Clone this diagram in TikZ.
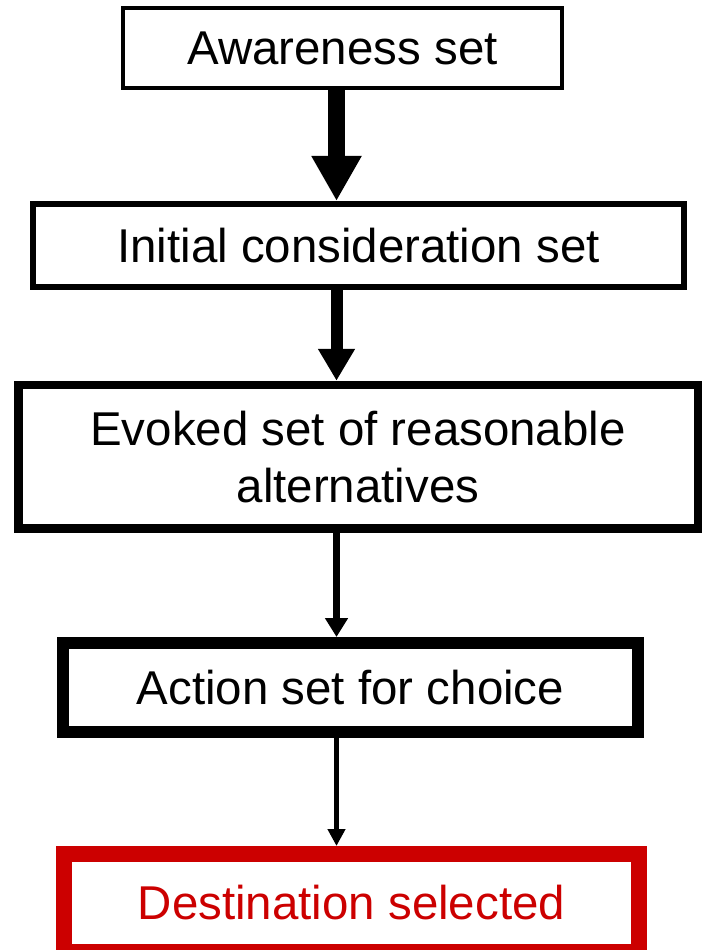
\documentclass[tikz,border=0pt]{standalone}
\usepackage{fontspec}
\setsansfont{Liberation Sans}
\usepackage{xcolor}
\definecolor{textmain}{HTML}{000000}
\definecolor{choicered}{HTML}{CC0000}
\usetikzlibrary{arrows.meta}

\begin{document}
\begin{tikzpicture}[
        font=\sffamily\fontsize{13.5}{16.2}\selectfont,
        set_box/.style={
            rectangle,
            draw=textmain,
            fill=white,
            align=center,
            inner sep=0pt,
            text=textmain
        },
        flow_arrow/.style n args={3}{
            draw=textmain,
            line width=#1,
            -{Triangle[width=#2, length=#3]}
        }
    ]

    % Page frame
    \useasboundingbox (0, 0) rectangle (7.02, -9.5);
    \coordinate (spine) at (3.365, 0);

    % Sets, from wide to narrow
    \node[set_box, line width=0.04cm, minimum width=4.39cm, minimum height=0.80cm] (aware) at (3.425, -0.48) {Awareness set};
    \node[set_box, line width=0.06cm, minimum width=6.51cm, minimum height=0.83cm] (initial) at (3.585, -2.455) {Initial consideration set};
    \node[set_box, line width=0.085cm, minimum width=6.795cm, minimum height=1.435cm] (evoked) at (3.58, -4.5675) {Evoked set of reasonable\\alternatives};
    \node[set_box, line width=0.12cm, minimum width=5.75cm, minimum height=0.89cm] (action) at (3.505, -6.875) {Action set for choice};
    \node[set_box, draw=choicered, text=choicered, line width=0.16cm, minimum width=5.75cm, minimum height=0.98cm] (dest) at (3.515, -9.03) {Destination selected};

    % Arrows get thinner step by step
    \draw[flow_arrow={0.17cm}{0.47cm}{0.45cm}] (aware.south -| spine) -- (initial.north -| spine);
    \draw[flow_arrow={0.12cm}{0.35cm}{0.32cm}] (initial.south -| spine) -- (evoked.north -| spine);
    \draw[flow_arrow={0.07cm}{0.22cm}{0.19cm}] (evoked.south -| spine) -- (action.north -| spine);
    \draw[flow_arrow={0.05cm}{0.17cm}{0.17cm}] (action.south -| spine) -- (dest.north -| spine);

\end{tikzpicture}
\end{document}
